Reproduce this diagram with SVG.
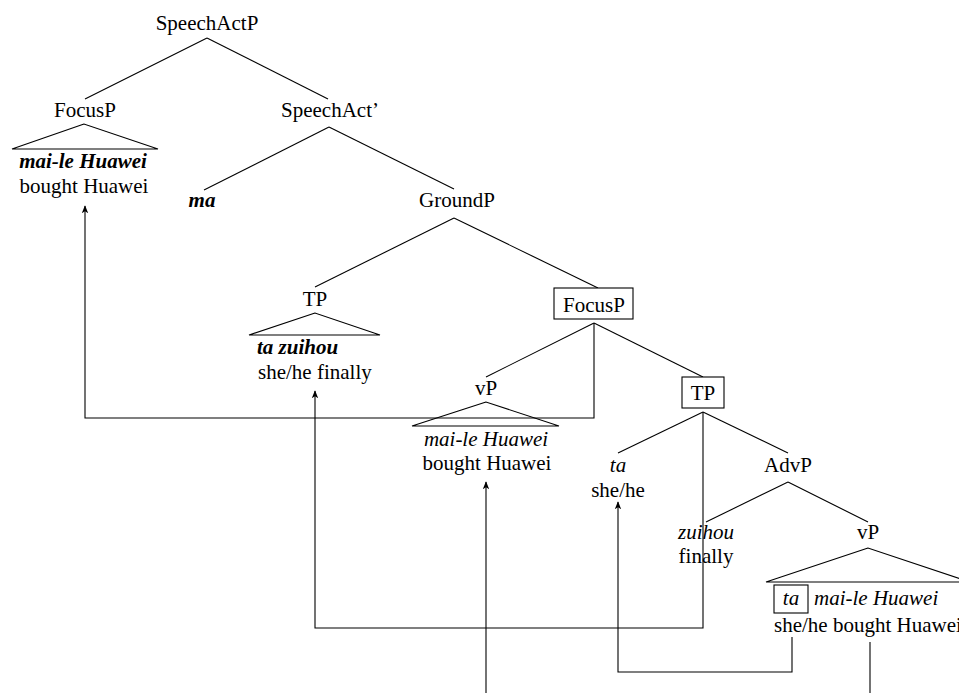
<svg xmlns="http://www.w3.org/2000/svg" width="959" height="693" viewBox="0 0 959 693">
<style>
text{font-size:21px;fill:#000}
.c{text-anchor:middle}
.i{font-style:italic}
.b{font-weight:bold;font-style:italic}
line,polyline,path{stroke:#000;stroke-width:1.1;fill:none}
.tri{stroke:#000;stroke-width:1.1;fill:none}
.box{stroke:#000;stroke-width:1.1;fill:#fff}
.arr{stroke:#000;stroke-width:1.1;fill:none;marker-end:url(#ah)}
</style>
<defs>
<marker id="ah" viewBox="0 0 10 10" refX="9" refY="5" markerWidth="8" markerHeight="8" markerUnits="userSpaceOnUse" orient="auto">
<path d="M0,1 L10,5 L0,9 L2.5,5 Z" style="fill:#000;stroke:none"/>
</marker>
</defs>
<rect width="959" height="693" fill="#fff"/>
<g id="connectors">
<line x1="207" y1="38" x2="85" y2="99"/>
<line x1="207" y1="38" x2="328" y2="99"/>
<line x1="329" y1="127" x2="204" y2="190"/>
<line x1="329" y1="127" x2="454" y2="189"/>
<line x1="454" y1="218" x2="315" y2="287"/>
<line x1="454" y1="218" x2="598" y2="288"/>
<line x1="594" y1="323" x2="486" y2="377"/>
<line x1="594" y1="323" x2="703" y2="377"/>
<line x1="703" y1="412" x2="618" y2="453"/>
<line x1="703" y1="412" x2="788" y2="453"/>
<line x1="788" y1="482" x2="706" y2="522"/>
<line x1="788" y1="482" x2="868" y2="522"/>
<polyline class="arr" points="594,323 594,418 85,418 85,206"/>
<polyline class="arr" points="703,412 703,628 315,628 315,391"/>
<polyline class="arr" points="486,693 486,482"/>
<polyline class="arr" points="792,637 792,672 618,672 618,502"/>
<line x1="870" y1="642" x2="870" y2="693"/>
</g>
<g font-family="'Liberation Serif', 'Times New Roman', Times, serif">
<g id="n-speechactp"><text class="c" x="207" y="30">SpeechActP</text></g>
<g id="n-focusp1">
<text class="c" x="85" y="117">FocusP</text>
<polygon class="tri" points="84,124 12,149 158,149"/>
<text class="c b" x="83" y="168">mai-le Huawei</text>
<text class="c" x="84" y="193">bought Huawei</text>
</g>
<g id="n-speechactbar"><text class="c" x="330" y="117">SpeechAct’</text></g>
<g id="n-ma"><text class="c b" x="202" y="207">ma</text></g>
<g id="n-groundp"><text class="c" x="457" y="207">GroundP</text></g>
<g id="n-tp1">
<text class="c" x="315" y="306">TP</text>
<polygon class="tri" points="315,313 249,335 380,335"/>
<text class="b" x="257" y="354">ta zuihou</text>
<text x="258" y="379">she/he finally</text>
</g>
<g id="n-focusp2">
<rect class="box" x="554" y="288" width="79" height="31"/>
<text class="c" x="594" y="312">FocusP</text>
</g>
<g id="n-vp1">
<text class="c" x="486" y="395">vP</text>
<polygon class="tri" points="486,402 412,426 559,426"/>
<text class="c i" x="486" y="446">mai-le Huawei</text>
<text class="c" x="487" y="470">bought Huawei</text>
</g>
<g id="n-tp2">
<rect class="box" x="682" y="377" width="42" height="31"/>
<text class="c" x="703" y="400">TP</text>
</g>
<g id="n-ta">
<text class="c i" x="618" y="472">ta</text>
<text class="c" x="618" y="497">she/he</text>
</g>
<g id="n-advp"><text class="c" x="788" y="472">AdvP</text></g>
<g id="n-zuihou">
<text class="c i" x="706" y="539">zuihou</text>
<text class="c" x="706" y="563">finally</text>
</g>
<g id="n-vp2">
<text class="c" x="868" y="539">vP</text>
<polygon class="tri" points="868,548 766,582 970,582"/>
<rect class="box" x="774" y="585" width="34" height="28"/>
<text class="c i" x="791" y="605">ta</text>
<text class="i" x="814" y="605">mai-le Huawei</text>
<text x="774" y="632">she/he bought Huawei</text>
</g>
</g>
</svg>
